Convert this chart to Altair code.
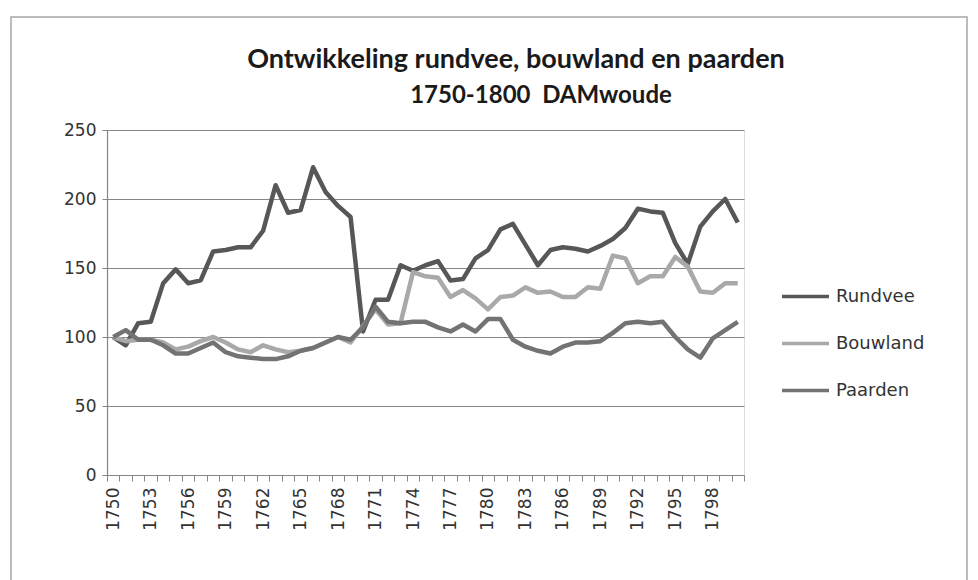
import altair as alt
import pandas as pd

years = list(range(1750, 1801))
rundvee = [100, 94, 110, 111, 139, 149, 139, 141, 162, 163,
           165, 165, 177, 210, 190, 192, 223, 205, 195, 187,
           104, 127, 127, 152, 148, 152, 155, 141, 142, 157,
           163, 178, 182, 167, 152, 163, 165, 164, 162, 166,
           171, 179, 193, 191, 190, 168, 153, 180, 191, 200, 183]
bouwland = [100, 97, 98, 98, 96, 91, 93, 97, 100, 96,
            91, 89, 94, 91, 89, 90, 92, 96, 100, 96,
            108, 120, 109, 110, 147, 144, 143, 129, 134, 128,
            120, 129, 130, 136, 132, 133, 129, 129, 136, 135,
            159, 157, 139, 144, 144, 158, 151, 133, 132, 139, 139]
paarden = [100, 105, 98, 98, 94, 88, 88, 92, 96, 89,
           86, 85, 84, 84, 86, 90, 92, 96, 100, 98,
           107, 122, 111, 110, 111, 111, 107, 104, 109, 104,
           113, 113, 98, 93, 90, 88, 93, 96, 96, 97,
           103, 110, 111, 110, 111, 100, 91, 85, 99, 105, 111]
series_names = ["Rundvee", "Bouwland", "Paarden"]
series_colors = ["#575757", "#a9a9a9", "#737373"]
label_years = list(range(1750, 1800, 3))
y_ticks = [0, 50, 100, 150, 200, 250]
title_lines = ["Ontwikkeling rundvee, bouwland en paarden", "1750-1800\u00a0 DAMwoude"]

rows = []
for name, vals in zip(series_names, [rundvee, bouwland, paarden]):
    for yr, v in zip(years, vals):
        rows.append({"Jaar": yr, "Waarde": v, "Reeks": name})
df = pd.DataFrame(rows)

boundaries = [yr - 0.5 for yr in years] + [years[-1] + 0.5]
x_scale = alt.Scale(domain=[years[0] - 0.5, years[-1] + 0.5], nice=False, zero=False)

W, H = 637, 345

lines = alt.Chart(df).mark_line(strokeWidth=4.5, strokeJoin="round").encode(
    x=alt.X("Jaar:Q", scale=x_scale,
            axis=alt.Axis(orient="bottom", values=label_years, ticks=False, labelAngle=270,
                          labelPadding=12, format="d", labelFontSize=17, labelFont="DejaVu Sans",
                          labelColor="#333333", domain=False, grid=False, title=None,
                          labelFlush=False, labelOverlap=False)),
    y=alt.Y("Waarde:Q", scale=alt.Scale(domain=[0, 250], nice=False),
            axis=alt.Axis(values=y_ticks, grid=True, gridColor="#868686", gridWidth=1.2,
                          tickSize=5, tickColor="#868686", domainColor="#868686", domainWidth=1.2,
                          labelFontSize=17, labelFont="DejaVu Sans", labelColor="#333333",
                          labelPadding=6, title=None)),
    color=alt.Color("Reeks:N", sort=series_names,
                    scale=alt.Scale(domain=series_names, range=series_colors),
                    legend=alt.Legend(orient="none", legendX=673, legendY=141, title=None,
                                      symbolType="stroke", symbolSize=2209, symbolStrokeWidth=3.5,
                                      labelFontSize=18, labelFont="DejaVu Sans", labelColor="#333333",
                                      labelOffset=5, rowPadding=12)),
)

tick_layer = alt.Chart(df).mark_point(opacity=0).encode(
    x=alt.X("Jaar:Q", scale=x_scale,
            axis=alt.Axis(orient="bottom", values=boundaries, labels=False, ticks=True,
                          tickSize=6, tickColor="#868686", domainColor="#868686", domainWidth=1.2,
                          grid=False, title=None)),
)

frame = alt.Chart(pd.DataFrame({"a": [0]})).mark_rect(
    fill="transparent", stroke="#a6a6a6", strokeWidth=1.5
).encode(x=alt.value(-96), x2=alt.value(860), y=alt.value(-113), y2=alt.value(480))

title1 = alt.Chart(pd.DataFrame({"t": [title_lines[0]]})).mark_text(
    font="Lato", fontSize=27, fontWeight="bold", color="#1a1a1a", align="center", baseline="alphabetic"
).encode(text="t:N", x=alt.value(409), y=alt.value(-62))

title2 = alt.Chart(pd.DataFrame({"t": [title_lines[1]]})).mark_text(
    font="Lato", fontSize=24, fontWeight="bold", color="#1a1a1a", align="center", baseline="alphabetic"
).encode(text="t:N", x=alt.value(434), y=alt.value(-27))

chart = alt.layer(frame, tick_layer, lines, title1, title2).resolve_axis(x="independent").properties(
    width=W, height=H,
    autosize=alt.AutoSizeParams(type="none"),
    padding={"left": 99, "top": 122, "right": 226, "bottom": 105},
).configure_view(stroke=None).configure(background="white")

chart.save("out.html", embed_options={"renderer": "svg", "actions": False})
